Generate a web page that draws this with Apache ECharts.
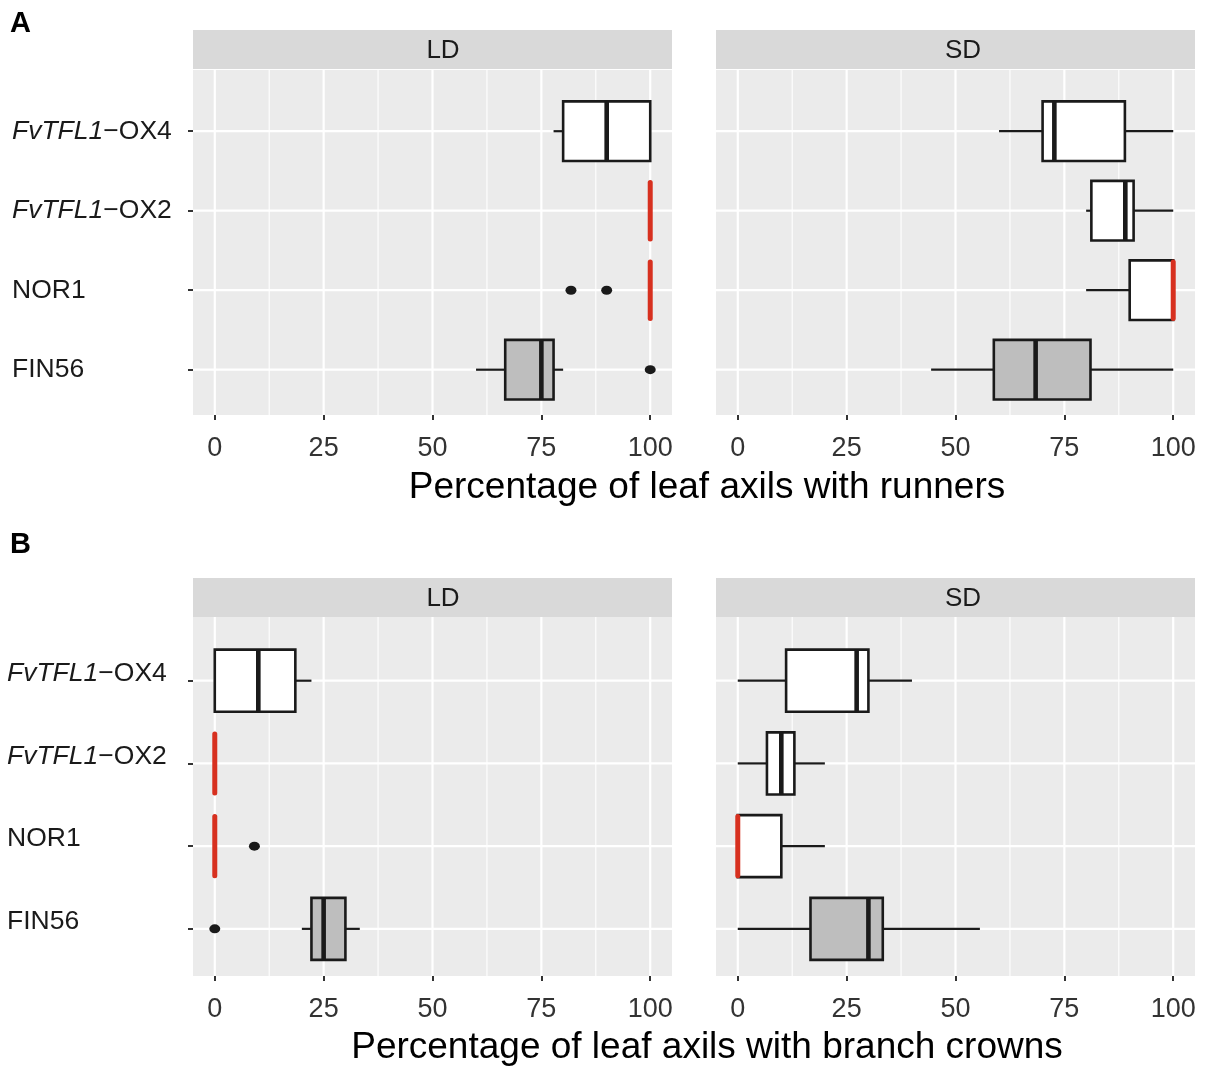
<!DOCTYPE html>
<html><head><meta charset="utf-8">
<script src="https://cdn.jsdelivr.net/npm/echarts@6/dist/echarts.min.js"></script>
<style>html,body{margin:0;padding:0;background:#fff}#c{width:1205px;height:1068px}</style>
</head><body><div id="c"></div>
<script>
// ---------------- DATA ----------------
const categories = ['FvTFL1−OX4', 'FvTFL1−OX2', 'NOR1', 'FIN56'];
const facets = ['LD', 'SD'];
const xTickValues = [0, 25, 50, 75, 100];
const xMinorValues = [12.5, 37.5, 62.5, 87.5];
const panelLetters = ['A', 'B'];
const panelTitles = ['Percentage of leaf axils with runners', 'Percentage of leaf axils with branch crowns'];

// five-number summaries per category: [lower whisker, Q1, median, Q3, upper whisker]
const runnersLD = [[77.8, 80, 90, 100, 100], [100, 100, 100, 100, 100], [100, 100, 100, 100, 100], [60, 66.7, 75, 77.8, 80]];
const runnersSD = [[60, 70, 72.7, 88.9, 100], [80, 81.2, 89, 90.9, 100], [80, 90, 100, 100, 100], [44.4, 58.8, 68.4, 81, 100]];
const crownsLD = [[0, 0, 10, 18.5, 22.2], [0, 0, 0, 0, 0], [0, 0, 0, 0, 0], [20, 22.2, 25, 30, 33.3]];
const crownsSD = [[0, 11.1, 27.3, 30, 40], [0, 6.7, 10, 13, 20], [0, 0, 0, 10, 20], [0, 16.7, 30, 33.3, 55.6]];

// outliers: [value, category]
const runnersLDOutliers = [[81.8, 'NOR1'], [90, 'NOR1'], [100, 'FIN56']];
const runnersSDOutliers = [];
const crownsLDOutliers = [[9.1, 'NOR1'], [0, 'FIN56']];
const crownsSDOutliers = [];

// ---------------- STYLE / LAYOUT ----------------
const FONT = "'Liberation Sans', Arial, Helvetica, sans-serif";
const INK = '#1A1A1A';
const RED = '#D7301F';
const boxFill = { 'FIN56': '#BEBEBE' };
const defaultFill = '#FFFFFF';
const Y_MIN = 0.23, Y_MAX = 4.57;

const panels = [
  { summaries: [runnersLD, runnersSD], outliers: [runnersLDOutliers, runnersSDOutliers],
    grids: [{ left: 193, top: 70, width: 479, height: 345 }, { left: 716, top: 70, width: 479, height: 345 }],
    stripTop: 30, stripH: 39, labelMargin: 181, labelLift: 0, titleY: 488, letterTop: 9 },
  { summaries: [crownsLD, crownsSD], outliers: [crownsLDOutliers, crownsSDOutliers],
    grids: [{ left: 193, top: 617, width: 479, height: 359 }, { left: 716, top: 617, width: 479, height: 359 }],
    stripTop: 578, stripH: 39, labelMargin: 186, labelLift: 14, titleY: 1048, letterTop: 530 }
];
const stripTextX = [443, 963];

function richLabel(name) {
  if (name.indexOf('FvTFL1') === 0) return '{it|FvTFL1}{n|' + name.slice(6) + '}';
  return '{n|' + name + '}';
}

function boxRender(params, api) {
  const y = api.value(0);
  const lo = api.value(1), q1 = api.value(2), md = api.value(3), q3 = api.value(4), hi = api.value(5);
  const c = v => api.coord([v, y]);
  const h = Math.abs(api.size([0, 1])[1]) * 0.75;
  const pLo = c(lo), pQ1 = c(q1), pMd = c(md), pQ3 = c(q3), pHi = c(hi);
  const cy = pMd[1];
  const fill = boxFill[categories[Math.round(y) - 1]] || defaultFill;
  const ch = [];
  if (q1 > lo) ch.push({ type: 'line', shape: { x1: pLo[0], y1: cy, x2: pQ1[0], y2: cy }, style: { stroke: INK, lineWidth: 2.2 } });
  if (hi > q3) ch.push({ type: 'line', shape: { x1: pQ3[0], y1: cy, x2: pHi[0], y2: cy }, style: { stroke: INK, lineWidth: 2.2 } });
  if (q3 > q1) ch.push({ type: 'rect', shape: { x: pQ1[0], y: cy - h / 2, width: pQ3[0] - pQ1[0], height: h }, style: { fill: fill, stroke: INK, lineWidth: 2.6 } });
  const red = (md === q1 || md === q3);
  ch.push({ type: 'line', shape: { x1: pMd[0], y1: cy - h / 2 + (red ? 1.5 : 0), x2: pMd[0], y2: cy + h / 2 - (red ? 1.5 : 0) },
    style: { stroke: red ? RED : INK, lineWidth: red ? 5 : 4.6, lineCap: red ? 'round' : 'butt' } });
  return { type: 'group', children: ch };
}

function vGridRender(params, api) {
  const cs = params.coordSys;
  const x = api.coord([api.value(0), api.value(1)])[0];
  const major = api.value(2);
  return { type: 'line', shape: { x1: x, y1: cs.y, x2: x, y2: cs.y + cs.height }, style: { stroke: '#FFFFFF', lineWidth: major ? 2.2 : 1.1 } };
}
function hGridRender(params, api) {
  const cs = params.coordSys;
  const y = api.coord([api.value(0), api.value(1)])[1];
  return { type: 'line', shape: { x1: cs.x, y1: y, x2: cs.x + cs.width, y2: y }, style: { stroke: '#FFFFFF', lineWidth: 2.2 } };
}

const grid = [], xAxis = [], yAxis = [], series = [], graphic = [];
let gi = 0;
panels.forEach((p, pi) => {
  facets.forEach((f, fi) => {
    const g = p.grids[fi];
    grid.push({ left: g.left, top: g.top, width: g.width, height: g.height, show: true, backgroundColor: '#EBEBEB', borderWidth: 0, containLabel: false });
    xAxis.push({
      type: 'value', gridIndex: gi, min: -5, max: 105, position: 'bottom',
      axisLine: { show: false, onZero: false },
      axisTick: { show: true, customValues: xTickValues, length: 5, lineStyle: { color: '#333333', width: 2 } },
      axisLabel: { customValues: xTickValues, fontSize: 27, color: '#333333', fontFamily: FONT, margin: 20 },
      splitLine: { show: false }
    });
    const showY = fi === 0;
    yAxis.push({
      type: 'value', gridIndex: gi, inverse: true, min: Y_MIN, max: Y_MAX, position: 'left',
      axisLine: { show: false, onZero: false },
      splitLine: { show: false },
      axisTick: { show: showY, customValues: [1, 2, 3, 4], length: 5, lineStyle: { color: '#333333', width: 2 } },
      axisLabel: {
        show: showY, customValues: [1, 2, 3, 4], align: 'left', margin: p.labelMargin,
        padding: [0, 0, p.labelLift, 0],
        formatter: v => richLabel(categories[Math.round(v) - 1] || ''),
        rich: {
          it: { fontStyle: 'italic', fontSize: 26.5, color: INK, fontFamily: FONT },
          n: { fontSize: 26.5, color: INK, fontFamily: FONT }
        }
      }
    });
    // grid lines
    series.push({
      type: 'custom', xAxisIndex: gi, yAxisIndex: gi, silent: true, z: 1, renderItem: vGridRender,
      dimensions: ['x', 'y', 'major'], encode: { x: 0, y: 1 },
      data: xTickValues.map(v => [v, 1, 1]).concat(xMinorValues.map(v => [v, 1, 0]))
    });
    series.push({
      type: 'custom', xAxisIndex: gi, yAxisIndex: gi, silent: true, z: 1, renderItem: hGridRender,
      dimensions: ['x', 'y'], encode: { x: 0, y: 1 },
      data: categories.map((c, i) => [0, i + 1])
    });
    // boxes
    series.push({
      type: 'custom', xAxisIndex: gi, yAxisIndex: gi, silent: true, z: 2, renderItem: boxRender,
      dimensions: ['cat', 'lo', 'q1', 'med', 'q3', 'hi'], encode: { x: [1, 2, 3, 4, 5], y: 0 },
      data: p.summaries[fi].map((s, i) => [i + 1].concat(s))
    });
    // outliers
    series.push({
      type: 'scatter', xAxisIndex: gi, yAxisIndex: gi, silent: true, z: 3,
      symbol: 'circle', symbolSize: [11, 9], itemStyle: { color: INK, opacity: 1 },
      data: p.outliers[fi].map(o => [o[0], categories.indexOf(o[1]) + 1])
    });
    // strip
    graphic.push({ type: 'rect', left: g.left, top: p.stripTop, shape: { width: g.width, height: p.stripH }, style: { fill: '#D9D9D9' }, silent: true });
    graphic.push({ type: 'text', x: stripTextX[fi], y: p.stripTop + p.stripH / 2 + 1, style: { text: f, fill: INK, font: '26px ' + FONT, textAlign: 'center', textVerticalAlign: 'middle' }, silent: true });
    gi++;
  });
  graphic.push({ type: 'text', x: 707, y: p.titleY, style: { text: panelTitles[pi], fill: '#000000', font: '37px ' + FONT, textAlign: 'center', textVerticalAlign: 'middle' }, silent: true });
  graphic.push({ type: 'text', x: 10, y: p.letterTop, style: { text: panelLetters[pi], fill: '#000000', font: 'bold 29px ' + FONT, textAlign: 'left', textVerticalAlign: 'top' }, silent: true });
});

const chart = echarts.init(document.getElementById('c'), null, { renderer: 'canvas' });
chart.setOption({ animation: false, backgroundColor: '#FFFFFF', grid, xAxis, yAxis, series, graphic });
</script></body></html>
